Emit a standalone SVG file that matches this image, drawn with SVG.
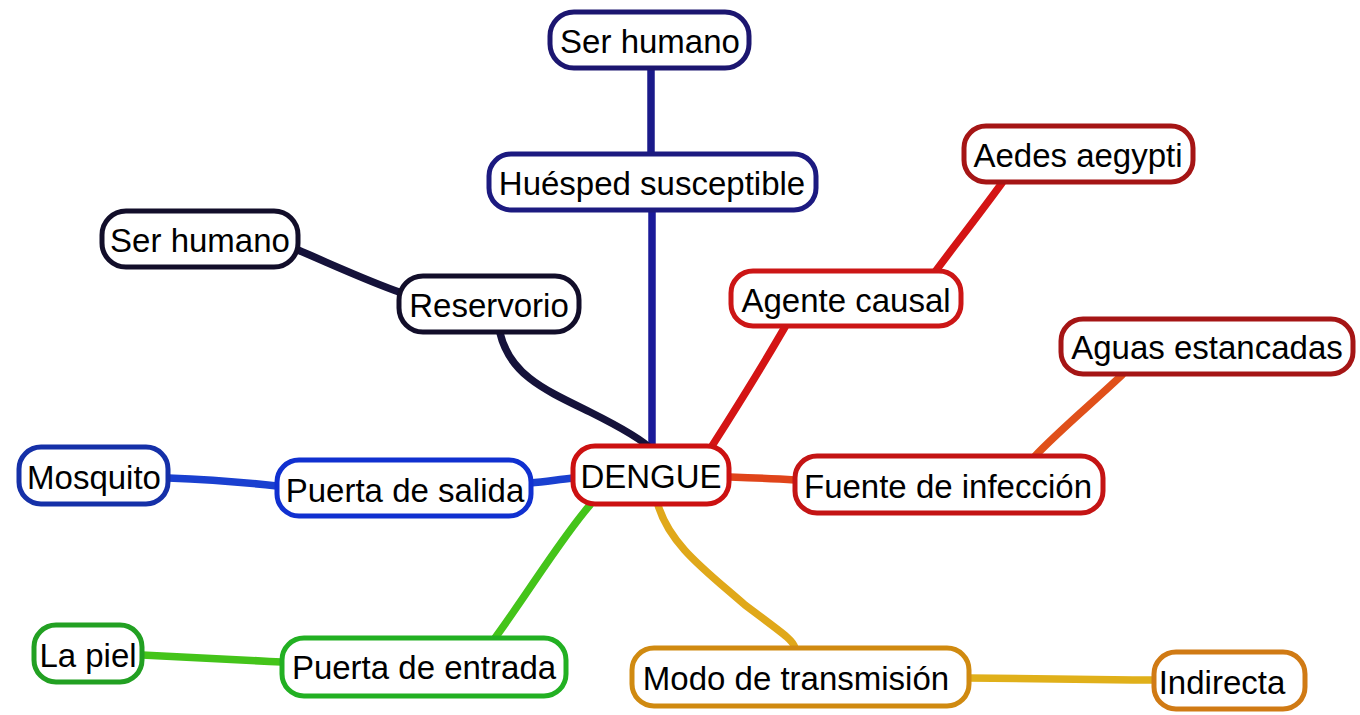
<svg xmlns="http://www.w3.org/2000/svg" width="1360" height="715" viewBox="0 0 1360 715">
<style>
.n rect{fill:#fff;stroke-width:5}
.n text{font-family:"Liberation Sans",Arial,sans-serif;font-size:33px;fill:#000;text-anchor:middle;dominant-baseline:central}
.c path{fill:none;stroke-linecap:round;stroke-width:7.5}
</style>
<rect width="1360" height="715" fill="#fff"/>
<g id="connectors" class="c">
<path d="M651,68 L651,155" stroke="#1a1a8a"/>
<path d="M652,211 L652,446" stroke="#1a1a99"/>
<path d="M298,250 C340,268 370,282 402,293" stroke="#15123a"/>
<path d="M500,333 C510,375 545,390 590,412 C630,432 645,442 652,450" stroke="#15123a"/>
<path d="M785,327 C760,370 735,410 712,446" stroke="#d41414"/>
<path d="M1002,183 C975,220 955,245 935,272" stroke="#d41414"/>
<path d="M1122,375 C1090,405 1060,430 1035,456" stroke="#e0501a"/>
<path d="M730,477 C760,478 780,479 795,480" stroke="#e0441a"/>
<path d="M573,478 C555,480 545,482 530,483" stroke="#1a40d0"/>
<path d="M168,478 C220,480 250,483 277,486" stroke="#1a40d0"/>
<path d="M590,505 C560,540 530,590 495,638" stroke="#44c41a"/>
<path d="M142,655 C200,658 240,660 282,662" stroke="#44c41a"/>
<path d="M658,505 C670,545 705,570 745,605 C785,635 793,640 795,648" stroke="#e0a81a"/>
<path d="M968,678 C1050,679 1100,680 1155,680" stroke="#e0b01a"/>
</g>
<g id="ser-humano-top" class="n"><rect x="550" y="12" width="199" height="56" rx="24" stroke="#1c1670" stroke-width="4"/><text x="650" y="41">Ser humano</text></g>
<g id="huesped" class="n"><rect x="489" y="154" width="327" height="56" rx="22" stroke="#1c1a80"/><text x="652" y="183">Huésped susceptible</text></g>
<g id="ser-humano-left" class="n"><rect x="102" y="211" width="196" height="56" rx="24" stroke="#120e2a" stroke-width="4"/><text x="200" y="240">Ser humano</text></g>
<g id="reservorio" class="n"><rect x="399" y="276" width="180" height="56" rx="24" stroke="#120e2a"/><text x="489" y="305">Reservorio</text></g>
<g id="agente" class="n"><rect x="731" y="271" width="230" height="55" rx="22" stroke="#cc1616"/><text x="846" y="300">Agente causal</text></g>
<g id="aedes" class="n"><rect x="964" y="126" width="229" height="56" rx="22" stroke="#a51515" stroke-width="4"/><text x="1078" y="155">Aedes aegypti</text></g>
<g id="aguas" class="n"><rect x="1061" y="319" width="292" height="55" rx="22" stroke="#a51515" stroke-width="4"/><text x="1207" y="347">Aguas estancadas</text></g>
<g id="dengue" class="n"><rect x="573" y="446" width="156" height="58" rx="22" stroke="#cc1111" stroke-width="6"/><text x="651" y="476">DENGUE</text></g>
<g id="fuente" class="n"><rect x="795" y="456" width="308" height="57" rx="22" stroke="#c41414"/><text x="948" y="486">Fuente de infección</text></g>
<g id="mosquito" class="n"><rect x="19" y="447" width="149" height="57" rx="22" stroke="#1530a8" stroke-width="4"/><text x="94" y="477">Mosquito</text></g>
<g id="salida" class="n"><rect x="277" y="460" width="254" height="56" rx="22" stroke="#1030d0"/><text x="405" y="490">Puerta de salida</text></g>
<g id="piel" class="n"><rect x="34" y="625" width="108" height="57" rx="22" stroke="#22a022" stroke-width="4"/><text x="88" y="655">La piel</text></g>
<g id="entrada" class="n"><rect x="282" y="638" width="284" height="58" rx="22" stroke="#22b022"/><text x="424" y="667">Puerta de entrada</text></g>
<g id="modo" class="n"><rect x="632" y="648" width="337" height="58" rx="22" stroke="#d08a10"/><text x="796" y="678">Modo de transmisión</text></g>
<g id="indirecta" class="n"><rect x="1154" y="652" width="151" height="57" rx="22" stroke="#d07a14" stroke-width="4"/><text x="1222" y="682">Indirecta</text></g>
</svg>
